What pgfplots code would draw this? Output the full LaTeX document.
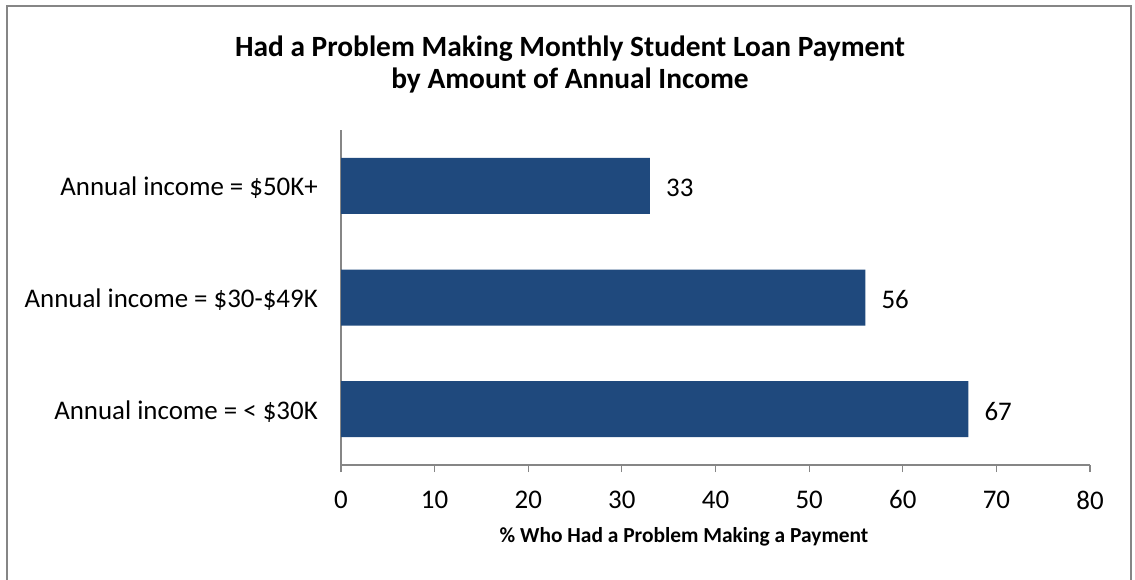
\documentclass[border=0pt]{standalone}
\usepackage{pgfplots}
\pgfplotsset{compat=1.18}
\usepackage{fontspec}
\setmainfont{Carlito}
\definecolor{barblue}{RGB}{31,73,125}
\definecolor{axgray}{RGB}{134,134,134}
\begin{document}
\begin{tikzpicture}[x=1bp,y=1bp]
\path[use as bounding box] (0,0) rectangle (1135,-580);
\draw[axgray, line width=2bp] (7,-590) -- (7,-6) -- (1131,-6) -- (1131,-590);
\node[font=\fontsize{29.5}{33}\selectfont\bfseries, align=center] at (570,-64.5) {Had a Problem Making Monthly Student Loan Payment\\by Amount of Annual Income};
\begin{axis}[
  at={(341bp,-465bp)}, anchor=south west,
  scale only axis, width=749bp, height=335bp,
  xmin=0, xmax=80, ymin=-0.5, ymax=2.5,
  enlargelimits=false, clip=false,
  xbar, bar width=56bp,
  axis x line*=bottom, axis y line*=left,
  axis line style={axgray, line width=1.2bp},
  xtick={0,10,...,80},
  ytick={0,1,2},
  yticklabels={{Annual income = < \$30K},{Annual income = \$30-\$49K},{Annual income = \$50K+}},
  tick align=outside,
  x tick style={axgray, line width=1.2bp},
  y tick style={draw=none},
  major tick length=7bp,
  /pgf/number format/assume math mode=true,
  ticklabel style={font=\fontsize{27}{30}\selectfont},
  xticklabel style={anchor=center, yshift=-28bp},
  yticklabel style={anchor=east, inner sep=0pt, xshift=-16bp, yshift=-2bp},
  xlabel={\% Who Had a Problem Making a Payment},
  xlabel style={at={(axis description cs:0.458,0)}, anchor=center, yshift=-72bp, font=\fontsize{21.5}{24}\selectfont\bfseries},
  nodes near coords,
  nodes near coords style={anchor=west, inner sep=0pt, xshift=16bp, yshift=-2bp, font=\fontsize{27}{30}\selectfont, text=black},
]
\addplot[fill=barblue, draw=none] coordinates {(67,0) (56,1) (33,2)};
\end{axis}
\end{tikzpicture}
\end{document}
